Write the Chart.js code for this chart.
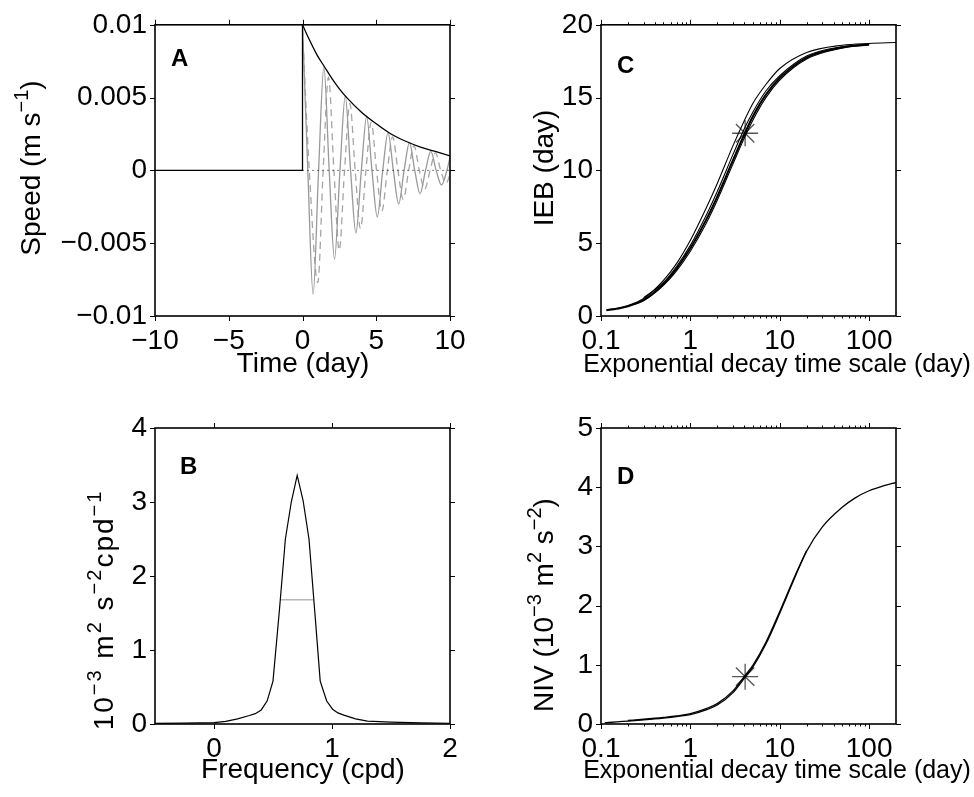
<!DOCTYPE html>
<html>
<head>
<meta charset="utf-8">
<script src="https://cdn.jsdelivr.net/npm/chart.js@4"></script>
<style>
  body { margin: 0; background: #fff; }
  .panel { position: absolute; }
</style>
</head>
<body>
<div class="panel" style="left:0;top:0"><canvas id="chartA" width="487" height="400"></canvas></div>
<div class="panel" style="left:487px;top:0"><canvas id="chartC" width="487" height="400"></canvas></div>
<div class="panel" style="left:0;top:400px"><canvas id="chartB" width="487" height="397"></canvas></div>
<div class="panel" style="left:487px;top:400px"><canvas id="chartD" width="487" height="397"></canvas></div>
<script>
const FONT = '"Liberation Sans", Arial, Helvetica, sans-serif';
const FS = 28;

// PANEL A - velocidade
const tStep = [-10, 0, 0];
const uStep = [0, 0, 0.01];
const tEnv = [0, 0.5, 1, 1.5, 2, 2.5, 3, 4, 5, 6, 7, 8, 9, 10];
const uEnv = [0.01, 0.0089, 0.0079, 0.0071, 0.0063, 0.0056, 0.005, 0.004, 0.0032, 0.0025, 0.002, 0.0016, 0.0013, 0.001];
const tSolid = [0, 0.36, 0.72, 1.09, 1.45, 1.81, 2.17, 2.54, 2.9, 3.26, 3.62, 3.99, 4.35, 4.71, 5.07, 5.44, 5.8, 6.16, 6.52, 6.89, 7.25, 7.61, 7.97, 8.34, 8.7, 9.06, 9.42, 9.79, 10];
const uSolid = [0.01, 0, -0.0085, 0, 0.0071, 0, -0.0061, 0, 0.0051, 0, -0.0043, 0, 0.0037, 0, -0.0032, 0, 0.0026, 0, -0.0023, 0, 0.0019, 0, -0.0016, 0, 0.0013, 0, -0.001, 0, 0.0009];
const tDash = [0, 0.46, 1.04, 1.4, 1.76, 2.13, 2.49, 2.85, 3.21, 3.57, 3.93, 4.3, 4.66, 5.02, 5.38, 5.75, 6.11, 6.47, 6.83, 7.2, 7.56, 7.92, 8.28, 8.65, 9.01, 9.37, 9.73, 10];
const uDash = [0.0097, 0, -0.0077, 0, 0.0064, 0, -0.0055, 0, 0.0046, 0, -0.004, 0, 0.0033, 0, -0.0028, 0, 0.0023, 0, -0.002, 0, 0.0017, 0, -0.0013, 0, 0.0012, 0, -0.0009, -0.0003];
const tZero = [0, 10];
const xTicksA = [-10, -5, 0, 5, 10];
const xLabelsA = ['\u221210', '\u22125', '0', '5', '10'];
const yTicksA = [-0.01, -0.005, 0, 0.005, 0.01];
const yLabelsA = ['\u22120.01', '\u22120.005', '0', '0.005', '0.01'];

// PANEL B - espectro
const freqB = [-0.5, -0.25, 0, 0.1, 0.2, 0.3, 0.35, 0.4, 0.45, 0.5, 0.555, 0.605, 0.655, 0.705, 0.755, 0.805, 0.855, 0.9, 0.955, 1.005, 1.05, 1.1, 1.2, 1.3, 1.5, 1.75, 2];
const specB = [0.008, 0.012, 0.018, 0.035, 0.07, 0.115, 0.14, 0.19, 0.31, 0.58, 1.55, 2.5, 3.0, 3.36, 3.02, 2.5, 1.5, 0.58, 0.31, 0.2, 0.15, 0.12, 0.07, 0.04, 0.025, 0.014, 0.01];
const fwhmF = [0.566, 0.84];
const fwhmV = [1.68, 1.68];
const xTicksB = [0, 1, 2];
const yTicksB = [0, 1, 2, 3, 4];

// PANEL C - IEB
const tauC = [0.115, 0.15, 0.2, 0.3, 0.5, 0.7, 1, 1.5, 2, 3, 4, 5, 7, 10, 20, 50, 100, 200];
const iebC1 = [0.42, 0.53, 0.72, 1.2, 2.45, 3.6, 5.2, 7.4, 9.1, 11.7, 13.4, 14.6, 15.9, 17.0, 18.1, 18.6, 18.72, 18.78];
const iebC2 = [0.4, 0.5, 0.66, 1.1, 2.2, 3.25, 4.65, 6.6, 8.2, 10.7, 12.45, 13.7, 15.2, 16.35, 17.75, 18.45, 18.65, null];
const iebC3 = [null, null, null, 1.25, 2.3, 3.4, 4.85, 6.9, 8.55, 11.1, 12.85, 14.0, 15.45, 16.5, 17.85, 18.5, 18.68, null];
const iebC4 = [null, null, 0.7, 1.05, 2.1, 3.1, 4.45, 6.35, 7.95, 10.45, 12.2, 13.45, 15.0, 16.2, 17.65, 18.4, 18.62, null];
const starC = [4.1, 12.55];

// PANEL D - NIV
const tauD = [0.11, 0.15, 0.2, 0.3, 0.5, 0.7, 1, 1.5, 2, 3, 4, 5, 7, 10, 15, 20, 30, 50, 70, 100, 150, 200];
const nivD1 = [0.02, 0.035, 0.05, 0.07, 0.1, 0.125, 0.16, 0.24, 0.32, 0.53, 0.77, 0.96, 1.35, 1.87, 2.5, 2.92, 3.33, 3.66, 3.82, 3.94, 4.03, 4.08];
const nivD2 = [null, null, 0.06, 0.08, 0.11, 0.135, 0.175, 0.26, 0.345, 0.56, 0.8, 0.99, 1.38, 1.9, 2.52, 2.93, null, null, null, null, null, null];
const starD = [4.1, 0.8];

const xTicksLog = [0.1, 1, 10, 100];
const xMinorLog = [0.2, 0.3, 0.4, 0.5, 0.6, 0.7, 0.8, 0.9, 2, 3, 4, 5, 6, 7, 8, 9, 20, 30, 40, 50, 60, 70, 80, 90];
const yTicksC = [0, 5, 10, 15, 20];
const yTicksD = [0, 1, 2, 3, 4, 5];

function pts(xs, ys) {
  return xs.map((x, i) => ({ x: x, y: ys[i] }));
}

// texto com expoentes
function drawRich(ctx, segs, x, y, rotate, size, spacing) {
  ctx.save();
  ctx.translate(x, y);
  if (rotate) ctx.rotate(-Math.PI / 2);
  ctx.letterSpacing = (spacing || 0) + 'px';
  const sup = Math.round(size * 0.72);
  let w = 0;
  segs.forEach((s) => {
    ctx.font = (s[1] ? sup : size) + 'px ' + FONT;
    w += ctx.measureText(s[0]).width;
  });
  let cx = -w / 2;
  ctx.fillStyle = '#000';
  ctx.textAlign = 'left';
  ctx.textBaseline = 'alphabetic';
  segs.forEach((s) => {
    ctx.font = (s[1] ? sup : size) + 'px ' + FONT;
    ctx.fillText(s[0], cx, s[1] ? -size * 0.42 : 0);
    cx += ctx.measureText(s[0]).width;
  });
  ctx.restore();
}

// moldura com ticks para fora
const framePlugin = {
  id: 'frame',
  afterDraw(chart, args, o) {
    const { ctx, chartArea: a, scales } = chart;
    const xs = scales.x, ys = scales.y;
    ctx.save();
    ctx.strokeStyle = '#000';
    ctx.lineWidth = 1;
    ctx.beginPath();
    xs.ticks.forEach((t) => {
      const p = Math.round(xs.getPixelForValue(t.value)) + 0.5;
      ctx.moveTo(p, a.top); ctx.lineTo(p, a.top - 5);
      ctx.moveTo(p, a.bottom); ctx.lineTo(p, a.bottom + 5);
    });
    (o.minor || []).forEach((v) => {
      const p = Math.round(xs.getPixelForValue(v)) + 0.5;
      ctx.moveTo(p, a.top); ctx.lineTo(p, a.top - 2.5);
      ctx.moveTo(p, a.bottom); ctx.lineTo(p, a.bottom + 2.5);
    });
    ys.ticks.forEach((t) => {
      const p = Math.round(ys.getPixelForValue(t.value)) + 0.5;
      ctx.moveTo(a.left, p); ctx.lineTo(a.left - 5, p);
      ctx.moveTo(a.right, p); ctx.lineTo(a.right + 5, p);
    });
    ctx.stroke();
    ctx.lineWidth = 1.6;
    ctx.strokeRect(a.left, a.top, a.right - a.left, a.bottom - a.top);
    ctx.fillStyle = '#000';
    ctx.font = 'bold 24px ' + FONT;
    ctx.textAlign = 'left';
    ctx.textBaseline = 'alphabetic';
    ctx.fillText(o.letter, o.lx, o.ly);
    drawRich(ctx, o.xTitle, o.xtx, o.xty, false, o.xts || FS, 0);
    drawRich(ctx, o.yTitle, o.ytx, o.yty, true, FS, o.yls || 0);
    ctx.restore();
  }
};

function tickFont() {
  return { family: FONT, size: FS };
}

function makeX(type, min, max, ticks, labels, h) {
  return {
    type: type, min: min, max: max,
    grid: { display: false, drawTicks: false },
    border: { display: false },
    afterBuildTicks: (s) => { s.ticks = ticks.map((v) => ({ value: v })); },
    afterFit: (s) => { s.height = h; },
    ticks: {
      color: '#000', font: tickFont(), padding: 8, autoSkip: false, maxRotation: 0,
      callback: (v, i) => labels[i]
    }
  };
}

function makeY(min, max, ticks, labels, w) {
  return {
    type: 'linear', min: min, max: max,
    grid: { display: false, drawTicks: false },
    border: { display: false },
    afterBuildTicks: (s) => { s.ticks = ticks.map((v) => ({ value: v })); },
    afterFit: (s) => { s.width = w; },
    ticks: {
      color: '#000', font: tickFont(), padding: 8, autoSkip: false,
      callback: (v, i) => labels[i]
    }
  };
}

function line(data, color, width, extra) {
  return Object.assign({
    type: 'line', data: data, borderColor: color, borderWidth: width,
    pointRadius: 0, fill: false, tension: 0, spanGaps: false
  }, extra || {});
}

const baseOpts = {
  responsive: false,
  animation: false,
  events: [],
  plugins: { legend: { display: false }, tooltip: { enabled: false } }
};

// A
new Chart(document.getElementById('chartA'), {
  type: 'line',
  data: {
    datasets: [
      line(pts(tStep, uStep), '#000', 1.3, { order: 0 }),
      line(pts(tEnv, uEnv), '#000', 1.3, { order: 1, cubicInterpolationMode: 'monotone' }),
      line(pts(tZero, [0, 0]), '#000', 1, { order: 2, borderDash: [1, 4] }),
      line(pts(tSolid, uSolid), '#999', 1.3, { order: 3, cubicInterpolationMode: 'monotone' }),
      line(pts(tDash, uDash), '#a5a5a5', 1.3, { order: 4, cubicInterpolationMode: 'monotone', borderDash: [7, 5] })
    ]
  },
  options: Object.assign({}, baseOpts, {
    layout: { padding: { top: 20, right: 37, left: 0, bottom: 0 } },
    scales: {
      x: makeX('linear', -10, 10, xTicksA, xLabelsA, 84),
      y: makeY(-0.01, 0.01, yTicksA, yLabelsA, 155)
    },
    plugins: Object.assign({}, baseOpts.plugins, {
      frame: {
        letter: 'A', lx: 171, ly: 66,
        xTitle: [['Time (day)', 0]], xtx: 303, xty: 372,
        yTitle: [['Speed (m s', 0], ['\u22121', 1], [')', 0]], ytx: 40, yty: 168
      }
    })
  }),
  plugins: [framePlugin]
});

// B
new Chart(document.getElementById('chartB'), {
  type: 'line',
  data: {
    datasets: [
      line(pts(freqB, specB), '#000', 1.2, { order: 0 }),
      line(pts(fwhmF, fwhmV), '#b8b8b8', 1.6, { order: 1 })
    ]
  },
  options: Object.assign({}, baseOpts, {
    layout: { padding: { top: 28, right: 37, left: 0, bottom: 0 } },
    scales: {
      x: makeX('linear', -0.5, 2, xTicksB, ['0', '1', '2'], 73),
      y: makeY(0, 4, yTicksB, ['0', '1', '2', '3', '4'], 155)
    },
    plugins: Object.assign({}, baseOpts.plugins, {
      frame: {
        letter: 'B', lx: 180, ly: 74,
        xTitle: [['Frequency (cpd)', 0]], xtx: 303, xty: 378,
        yTitle: [['10', 0], ['\u22123', 1], [' m', 0], ['2', 1], [' s', 0], ['\u22122', 1], ['cpd', 0], ['\u22121', 1]],
        ytx: 113, yty: 210, yls: 2
      }
    })
  }),
  plugins: [framePlugin]
});

// C
new Chart(document.getElementById('chartC'), {
  type: 'line',
  data: {
    datasets: [
      line(pts(tauC, iebC1), '#000', 1.1, { cubicInterpolationMode: 'monotone' }),
      line(pts(tauC, iebC2), '#000', 2, { cubicInterpolationMode: 'monotone' }),
      line(pts(tauC, iebC3), '#000', 1.1, { cubicInterpolationMode: 'monotone' }),
      line(pts(tauC, iebC4), '#000', 1.1, { cubicInterpolationMode: 'monotone' }),
      { type: 'scatter', data: [{ x: starC[0], y: starC[1] }], pointStyle: 'star', pointRadius: 13,
        borderColor: '#555', borderWidth: 1.3, backgroundColor: 'transparent' }
    ]
  },
  options: Object.assign({}, baseOpts, {
    layout: { padding: { top: 20, right: 78, left: 0, bottom: 0 } },
    scales: {
      x: makeX('logarithmic', 0.1, 200, xTicksLog, ['0.1', '1', '10', '100'], 84),
      y: makeY(0, 20, yTicksC, ['0', '5', '10', '15', '20'], 114)
    },
    plugins: Object.assign({}, baseOpts.plugins, {
      frame: {
        letter: 'C', lx: 130, ly: 73, minor: xMinorLog,
        xTitle: [['Exponential decay time scale (day)', 0]], xtx: 290, xty: 372, xts: 25,
        yTitle: [['IEB (day)', 0]], ytx: 66, yty: 168
      }
    })
  }),
  plugins: [framePlugin]
});

// D
new Chart(document.getElementById('chartD'), {
  type: 'line',
  data: {
    datasets: [
      line(pts(tauD, nivD1), '#000', 1.3, { cubicInterpolationMode: 'monotone' }),
      line(pts(tauD, nivD2), '#000', 1.3, { cubicInterpolationMode: 'monotone' }),
      { type: 'scatter', data: [{ x: starD[0], y: starD[1] }], pointStyle: 'star', pointRadius: 13,
        borderColor: '#555', borderWidth: 1.3, backgroundColor: 'transparent' }
    ]
  },
  options: Object.assign({}, baseOpts, {
    layout: { padding: { top: 28, right: 78, left: 0, bottom: 0 } },
    scales: {
      x: makeX('logarithmic', 0.1, 200, xTicksLog, ['0.1', '1', '10', '100'], 73),
      y: makeY(0, 5, yTicksD, ['0', '1', '2', '3', '4', '5'], 114)
    },
    plugins: Object.assign({}, baseOpts.plugins, {
      frame: {
        letter: 'D', lx: 130, ly: 84, minor: xMinorLog,
        xTitle: [['Exponential decay time scale (day)', 0]], xtx: 290, xty: 378, xts: 25,
        yTitle: [['NIV (10', 0], ['\u22123', 1], [' m', 0], ['2', 1], [' s', 0], ['\u22122', 1], [')', 0]],
        ytx: 66, yty: 205
      }
    })
  }),
  plugins: [framePlugin]
});
</script>
</body>
</html>
